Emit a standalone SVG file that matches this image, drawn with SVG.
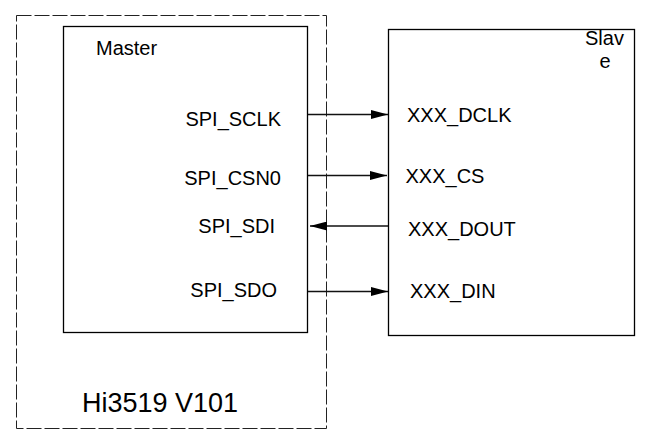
<svg xmlns="http://www.w3.org/2000/svg" width="648" height="437" viewBox="0 0 648 437">
<style>
.box{fill:#fff;stroke:#000;stroke-width:1.3}
.dash{fill:none;stroke:#222;stroke-width:1;stroke-dasharray:15 3}
.t{font-family:"Liberation Sans",Arial,sans-serif;font-size:20px;fill:#000}
.big{font-size:27px}
.conn{stroke:#111;stroke-width:1.5;fill:none}
</style>
<defs>
<marker id="arr" markerWidth="17" markerHeight="9" refX="17" refY="4.5" orient="auto" markerUnits="userSpaceOnUse">
<path d="M0,0 L17,4.5 L0,9 Z" fill="#000"/>
</marker>
</defs>
<g id="chip">
<rect class="dash" x="16.5" y="15.5" width="310" height="413"/>
<text class="t big" x="82" y="412">Hi3519 V101</text>
</g>
<g id="master">
<rect class="box" x="63.5" y="26.5" width="244" height="306"/>
<text class="t" x="96" y="55">Master</text>
<text class="t" x="281" y="126" text-anchor="end">SPI_SCLK</text>
<text class="t" x="281" y="185" text-anchor="end">SPI_CSN0</text>
<text class="t" x="275" y="233" text-anchor="end">SPI_SDI</text>
<text class="t" x="277" y="297" text-anchor="end">SPI_SDO</text>
</g>
<g id="slave">
<rect class="box" x="388.5" y="29.5" width="246" height="306"/>
<text class="t" x="585" y="45">Slav</text>
<text class="t" x="605" y="68" text-anchor="middle">e</text>
<text class="t" x="407" y="122">XXX_DCLK</text>
<text class="t" x="405.5" y="183">XXX_CS</text>
<text class="t" x="408" y="236">XXX_DOUT</text>
<text class="t" x="410" y="298">XXX_DIN</text>
</g>
<g id="connectors">
<line class="conn" x1="308" y1="114.5" x2="388" y2="114.5" marker-end="url(#arr)"/>
<line class="conn" x1="308" y1="175.5" x2="387" y2="175.5" marker-end="url(#arr)"/>
<line class="conn" x1="388" y1="226" x2="310" y2="226" marker-end="url(#arr)"/>
<line class="conn" x1="308" y1="291.5" x2="388" y2="291.5" marker-end="url(#arr)"/>
</g>
</svg>
